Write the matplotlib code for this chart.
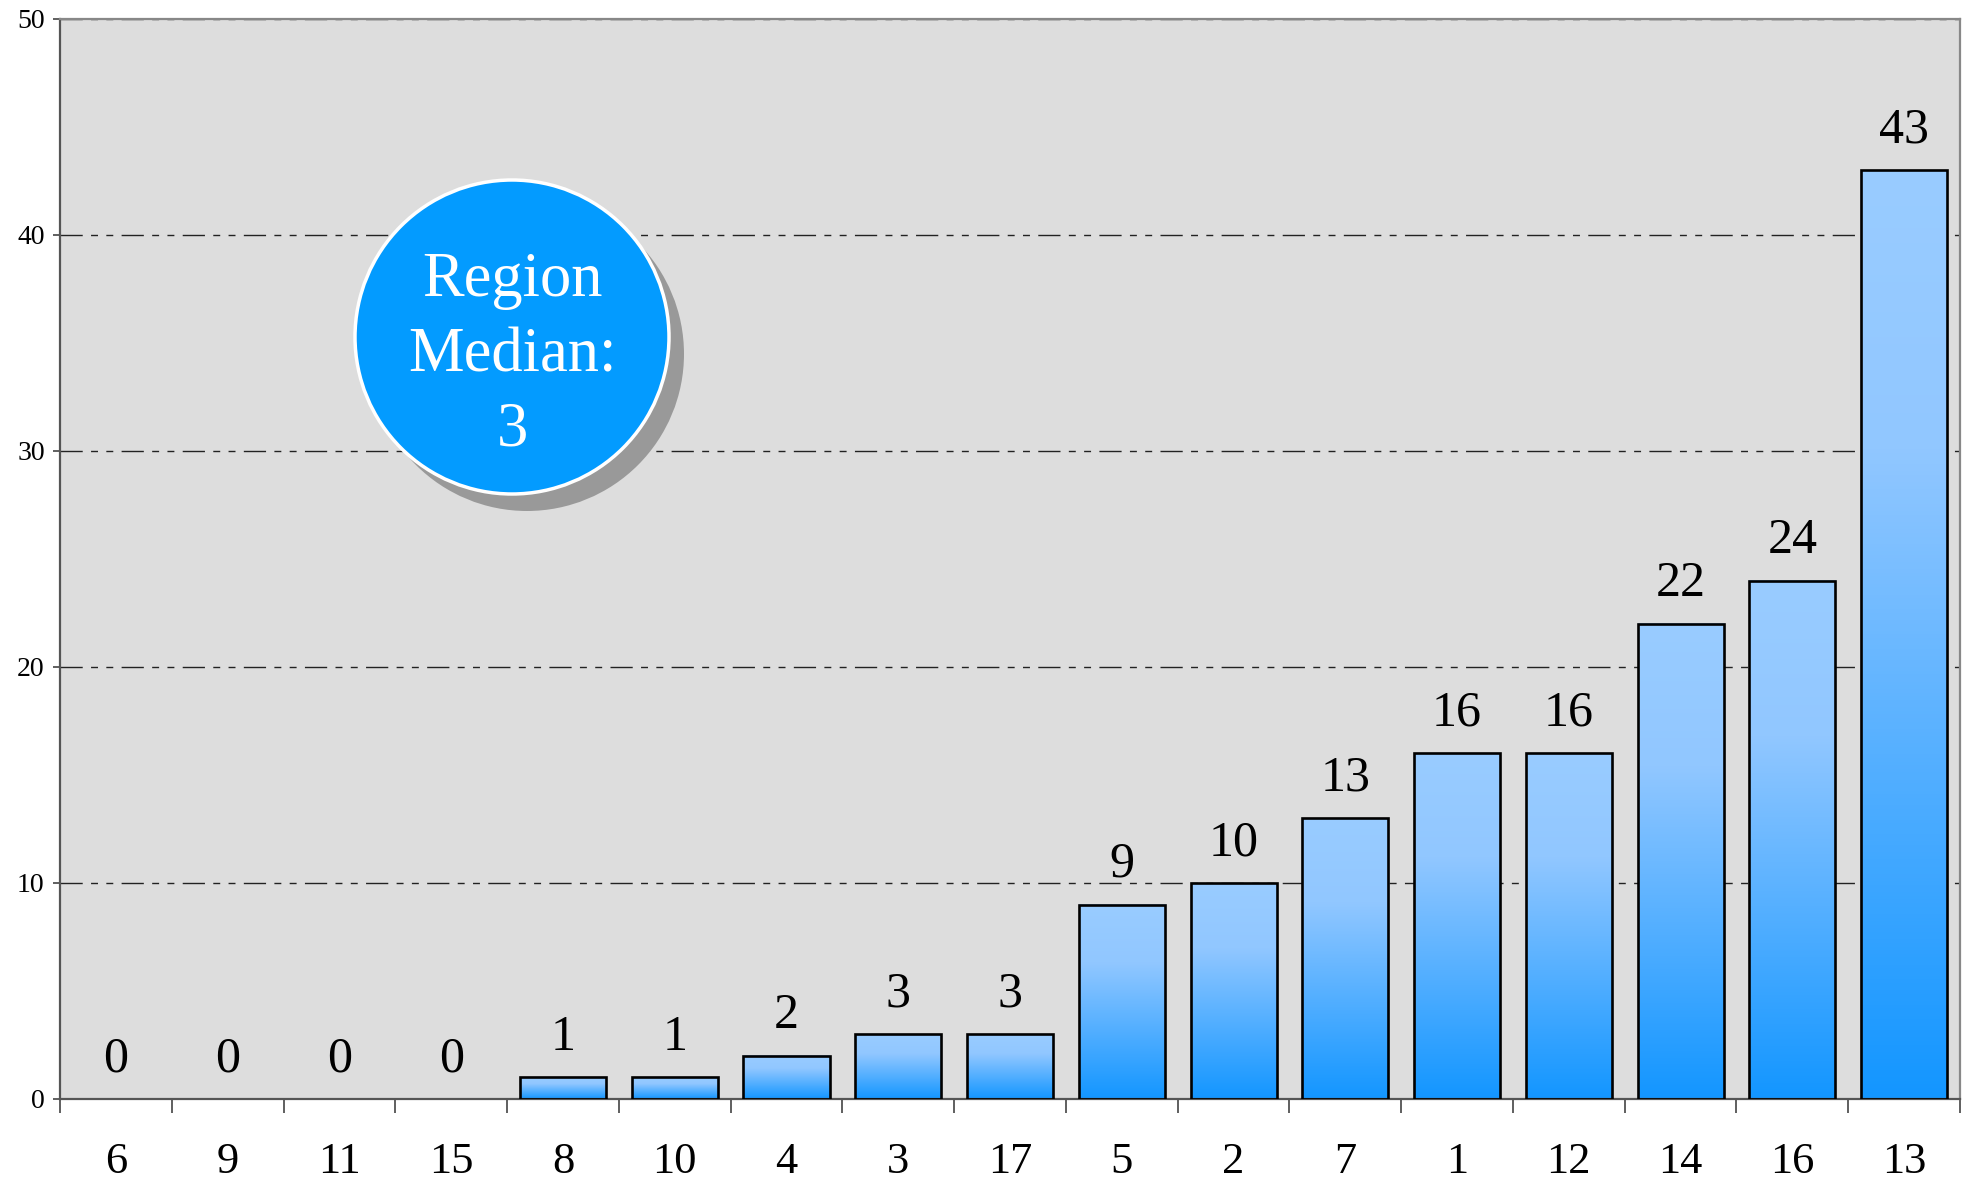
import numpy as np
import matplotlib.pyplot as plt
from matplotlib.colors import LinearSegmentedColormap
from matplotlib.patches import Ellipse

# data
categories = ['6', '9', '11', '15', '8', '10', '4', '3', '17', '5', '2', '7', '1', '12', '14', '16', '13']
values = [0, 0, 0, 0, 1, 1, 2, 3, 3, 9, 10, 13, 16, 16, 22, 24, 43]
median_label = 'Region\nMedian:\n3'

plt.rcParams['font.family'] = ['Liberation Serif', 'DejaVu Serif']

W, H = 1971, 1181
fig = plt.figure(figsize=(W / 100, H / 100), dpi=100)
ax = fig.add_axes([60 / W, 1 - 1099 / H, 1900 / W, 1080 / H])
ax.set_facecolor('#DDDDDD')

x = np.arange(len(categories))
bars = ax.bar(x, values, width=0.77, facecolor='none', edgecolor='black',
              linewidth=1.9, zorder=3)

# vertical gradient inside each bar
cmap = LinearSegmentedColormap.from_list(
    'barfill', [(0.0, '#99CCFF'), (0.3, '#91C7FF'), (1.0, '#1396FF')])
grad = np.linspace(0, 1, 256).reshape(-1, 1)
for b in bars:
    h = b.get_height()
    if h <= 0:
        b.set_linewidth(0)
        continue
    x0 = b.get_x()
    ax.imshow(grad, cmap=cmap, aspect='auto', origin='upper',
              extent=(x0, x0 + b.get_width(), 0, h), zorder=2)

for xi, v in zip(x, values):
    ax.annotate(str(v), (xi, v), xytext=(0, 20), textcoords='offset points',
                ha='center', va='baseline', fontsize=36, color='black', zorder=4)

ax.set_xlim(-0.5, len(categories) - 0.5)
ax.set_ylim(0, 50)
ax.set_yticks([0, 10, 20, 30, 40, 50])
ax.yaxis.grid(True, color='#222222', linewidth=1.0,
              linestyle=(0, (16, 6, 5, 6, 5, 6)))
ax.set_axisbelow(True)

ax.set_xticks(x)
ax.set_xticklabels(categories)
ax.set_xticks(np.arange(-0.5, len(categories)), minor=True)
ax.tick_params(axis='x', which='major', length=0, labelsize=32, pad=31)
ax.tick_params(axis='x', which='minor', length=10, width=1.2, color='#444444')
ax.tick_params(axis='y', length=5, width=1.2, color='#444444', labelsize=20, pad=6)

for side in ['left', 'bottom']:
    ax.spines[side].set_color('#555555')
    ax.spines[side].set_linewidth(1.6)
for side in ['top', 'right']:
    ax.spines[side].set_color('#888888')
    ax.spines[side].set_linewidth(1.6)

# median badge with shadow
cx, cy, r = 512 / W, 1 - 337 / H, 157
shadow = Ellipse((cx + 15 / W, cy - 17 / H), 2 * r / W, 2 * r / H,
                 transform=fig.transFigure, facecolor='#999999', edgecolor='none', zorder=5)
badge = Ellipse((cx, cy), 2 * r / W, 2 * r / H, transform=fig.transFigure,
                facecolor='#039BFF', edgecolor='white', linewidth=2.5, zorder=6)
fig.patches.extend([shadow, badge])
fig.text(cx, 1 - 356 / H, median_label, ha='center', va='center', fontsize=45,
         color='white', linespacing=1.38, zorder=7)

fig.savefig('out.png', dpi=100, facecolor='white')
